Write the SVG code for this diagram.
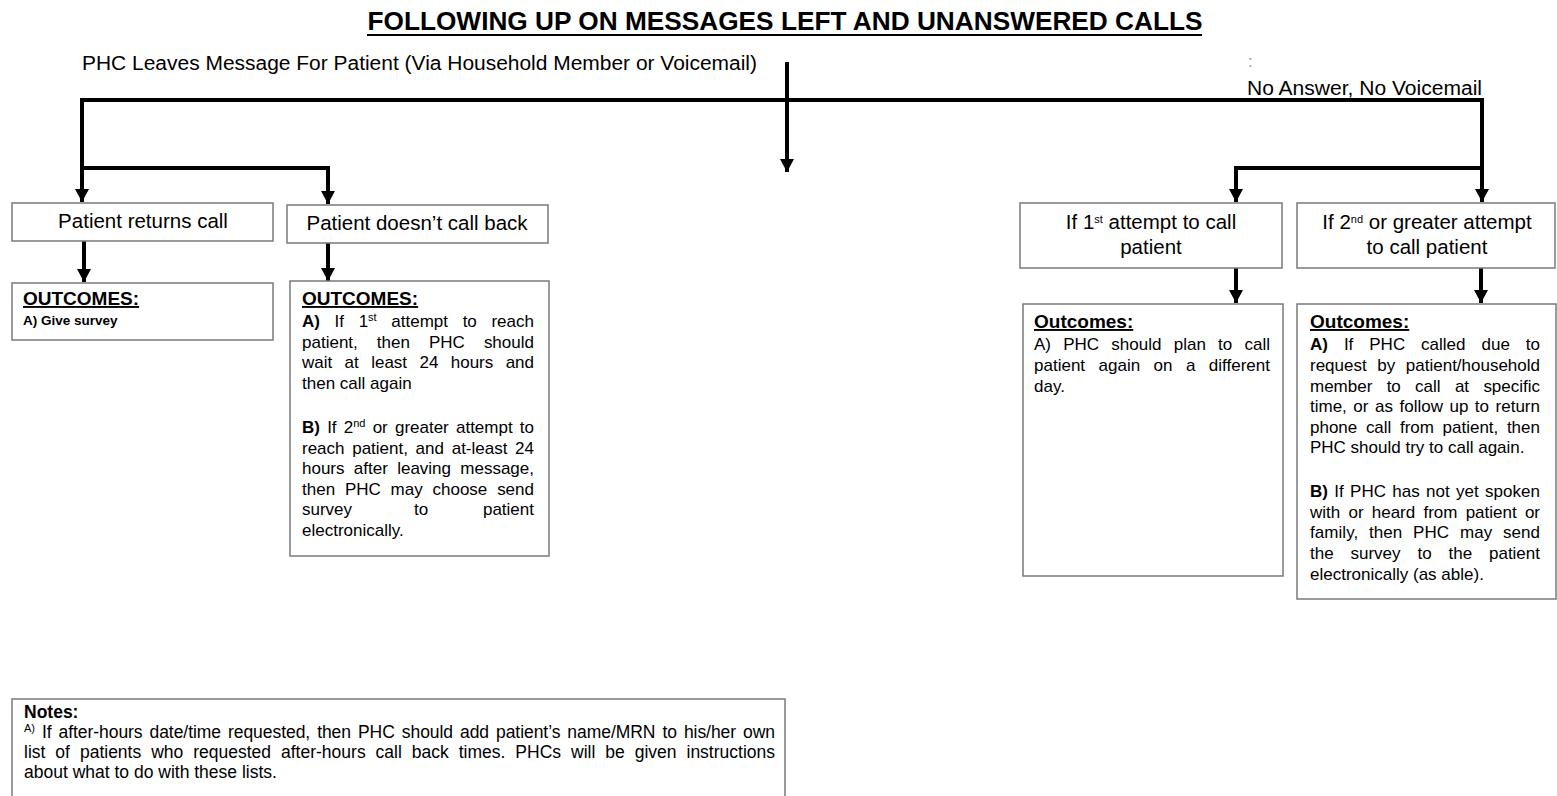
<svg xmlns="http://www.w3.org/2000/svg" width="1557" height="796" viewBox="0 0 1557 796">
<style>
text{font-family:"Liberation Sans",Arial,sans-serif;fill:#000}
.box{fill:#fff;stroke:#7a7a7a;stroke-width:1.5}
.lbl{font-size:20.5px;text-anchor:middle}
.hd{font-size:19px;font-weight:bold;text-decoration:underline}
.sm{font-size:17px}
.nt{font-size:17.5px}
.b{font-weight:bold}
.sup{font-size:11px}
.conn{fill:none;stroke:#000;stroke-width:4}
</style>
<defs>
<marker id="ad" markerUnits="userSpaceOnUse" markerWidth="16" markerHeight="16" viewBox="0 0 16 16" refX="8" refY="15">
<path d="M1,2 L15,2 L8,15 Z" fill="#000"/>
</marker>
</defs>

<g id="title">
<text x="785" y="30" font-size="25" font-weight="bold" text-anchor="middle" textLength="835" lengthAdjust="spacingAndGlyphs">FOLLOWING UP ON MESSAGES LEFT AND UNANSWERED CALLS</text>
<line x1="367" y1="35" x2="1202" y2="35" stroke="#000" stroke-width="2"/>
</g>

<g id="start-message">
<text x="82" y="70" font-size="20" textLength="675" lengthAdjust="spacingAndGlyphs">PHC Leaves Message For Patient (Via Household Member or Voicemail)</text>
</g>

<g id="start-noanswer">
<text x="1248" y="67" font-size="16" style="fill:#5b9bd5">:</text>
<text x="1247" y="95" font-size="20" textLength="235" lengthAdjust="spacingAndGlyphs">No Answer,  No Voicemail</text>
</g>

<g id="connectors">
<path class="conn" d="M787,62 V172" marker-end="url(#ad)"/>
<path class="conn" d="M80,100 H1484"/>
<path class="conn" d="M82,98 V202" marker-end="url(#ad)"/>
<path class="conn" d="M82,168 H328 V204" marker-end="url(#ad)"/>
<path class="conn" d="M84,241 V282" marker-end="url(#ad)"/>
<path class="conn" d="M328,243 V281" marker-end="url(#ad)"/>
<path class="conn" d="M1482,98 V202" marker-end="url(#ad)"/>
<path class="conn" d="M1482,168 H1236 V202" marker-end="url(#ad)"/>
<path class="conn" d="M1236,268 V303" marker-end="url(#ad)"/>
<path class="conn" d="M1481,268 V303" marker-end="url(#ad)"/>
</g>

<g id="node-returns">
<rect class="box" x="12" y="203" width="261" height="38"/>
<text class="lbl" x="143" y="228">Patient returns call</text>
</g>

<g id="node-nocallback">
<rect class="box" x="287" y="205" width="261" height="38"/>
<text class="lbl" x="417" y="230">Patient doesn’t call back</text>
</g>

<g id="node-first">
<rect class="box" x="1020" y="203" width="262" height="65"/>
<text class="lbl" x="1151" y="229">If 1<tspan class="sup" baseline-shift="super">st</tspan> attempt to call</text>
<text class="lbl" x="1151" y="254">patient</text>
</g>

<g id="node-second">
<rect class="box" x="1297" y="203" width="258" height="65"/>
<text class="lbl" x="1427" y="229">If 2<tspan class="sup" baseline-shift="super">nd</tspan> or greater attempt</text>
<text class="lbl" x="1427" y="254">to call patient</text>
</g>

<g id="outcome-returns">
<rect class="box" x="12" y="283" width="261" height="57"/>
<text class="hd" x="23" y="305">OUTCOMES:</text>
<text x="23" y="325" font-size="13.5" font-weight="bold">A) Give survey</text>
</g>

<g id="outcome-nocallback">
<rect class="box" x="290" y="281" width="259" height="275"/>
<text class="hd" x="302" y="305">OUTCOMES:</text>
<text class="sm" x="302" y="327" word-spacing="9.9" textLength="232" lengthAdjust="spacing"><tspan class="b">A)</tspan> If 1<tspan class="sup" baseline-shift="super">st</tspan> attempt to reach</text>
<text class="sm" x="302" y="348" word-spacing="14.3" textLength="232" lengthAdjust="spacing">patient, then PHC should</text>
<text class="sm" x="302" y="368" word-spacing="7.7" textLength="232" lengthAdjust="spacing">wait at least 24 hours and</text>
<text class="sm" x="302" y="389">then call again</text>
<text class="sm" x="302" y="433" word-spacing="2.5" textLength="232" lengthAdjust="spacing"><tspan class="b">B)</tspan> If 2<tspan class="sup" baseline-shift="super">nd</tspan> or greater attempt to</text>
<text class="sm" x="302" y="454" word-spacing="3" textLength="232" lengthAdjust="spacing">reach patient, and at-least 24</text>
<text class="sm" x="302" y="474" word-spacing="4.6" textLength="232" lengthAdjust="spacing">hours after leaving message,</text>
<text class="sm" x="302" y="495" word-spacing="5.1" textLength="232" lengthAdjust="spacing">then PHC may choose send</text>
<text class="sm" x="302" y="515">survey</text>
<text class="sm" x="421" y="515" text-anchor="middle">to</text>
<text class="sm" x="534" y="515" text-anchor="end">patient</text>
<text class="sm" x="302" y="536">electronically.</text>
</g>

<g id="outcome-first">
<rect class="box" x="1023" y="304" width="260" height="272"/>
<text class="hd" x="1034" y="328">Outcomes:</text>
<text class="sm" x="1034" y="350" word-spacing="7.5" textLength="236" lengthAdjust="spacing">A) PHC should plan to call</text>
<text class="sm" x="1034" y="371" word-spacing="8.7" textLength="236" lengthAdjust="spacing">patient again on a different</text>
<text class="sm" x="1034" y="392">day.</text>
</g>

<g id="outcome-second">
<rect class="box" x="1297" y="304" width="259" height="295"/>
<text class="hd" x="1310" y="328">Outcomes:</text>
<text class="sm" x="1310" y="350" word-spacing="11.2" textLength="230" lengthAdjust="spacing"><tspan class="b">A)</tspan> If PHC called due to</text>
<text class="sm" x="1310" y="371" word-spacing="5.9" textLength="230" lengthAdjust="spacing">request by patient/household</text>
<text class="sm" x="1310" y="392" word-spacing="9.6" textLength="230" lengthAdjust="spacing">member to call at specific</text>
<text class="sm" x="1310" y="412" word-spacing="1.8" textLength="230" lengthAdjust="spacing">time, or as follow up to return</text>
<text class="sm" x="1310" y="433" word-spacing="3.9" textLength="230" lengthAdjust="spacing">phone call from patient, then</text>
<text class="sm" x="1310" y="453">PHC should try to call again.</text>
<text class="sm" x="1310" y="497" word-spacing="1.6" textLength="230" lengthAdjust="spacing"><tspan class="b">B)</tspan> If PHC has not yet spoken</text>
<text class="sm" x="1310" y="518" word-spacing="3.5" textLength="230" lengthAdjust="spacing">with or heard from patient or</text>
<text class="sm" x="1310" y="538" word-spacing="6" textLength="230" lengthAdjust="spacing">family, then PHC may send</text>
<text class="sm" x="1310" y="559" word-spacing="12.2" textLength="230" lengthAdjust="spacing">the survey to the patient</text>
<text class="sm" x="1310" y="580">electronically (as able).</text>
</g>

<g id="notes">
<rect class="box" x="12" y="699" width="773" height="110"/>
<text x="24" y="718" font-size="17.5" font-weight="bold">Notes:</text>
<text class="nt" x="24" y="738" word-spacing="2.2" textLength="751" lengthAdjust="spacing"><tspan class="sup" baseline-shift="super">A)</tspan> If after-hours date/time requested, then PHC should add patient’s name/MRN to his/her own</text>
<text class="nt" x="24" y="758" word-spacing="5.1" textLength="751" lengthAdjust="spacing">list of patients who requested after-hours call back times. PHCs will be given instructions</text>
<text class="nt" x="24" y="778">about what to do with these lists.</text>
</g>
</svg>
